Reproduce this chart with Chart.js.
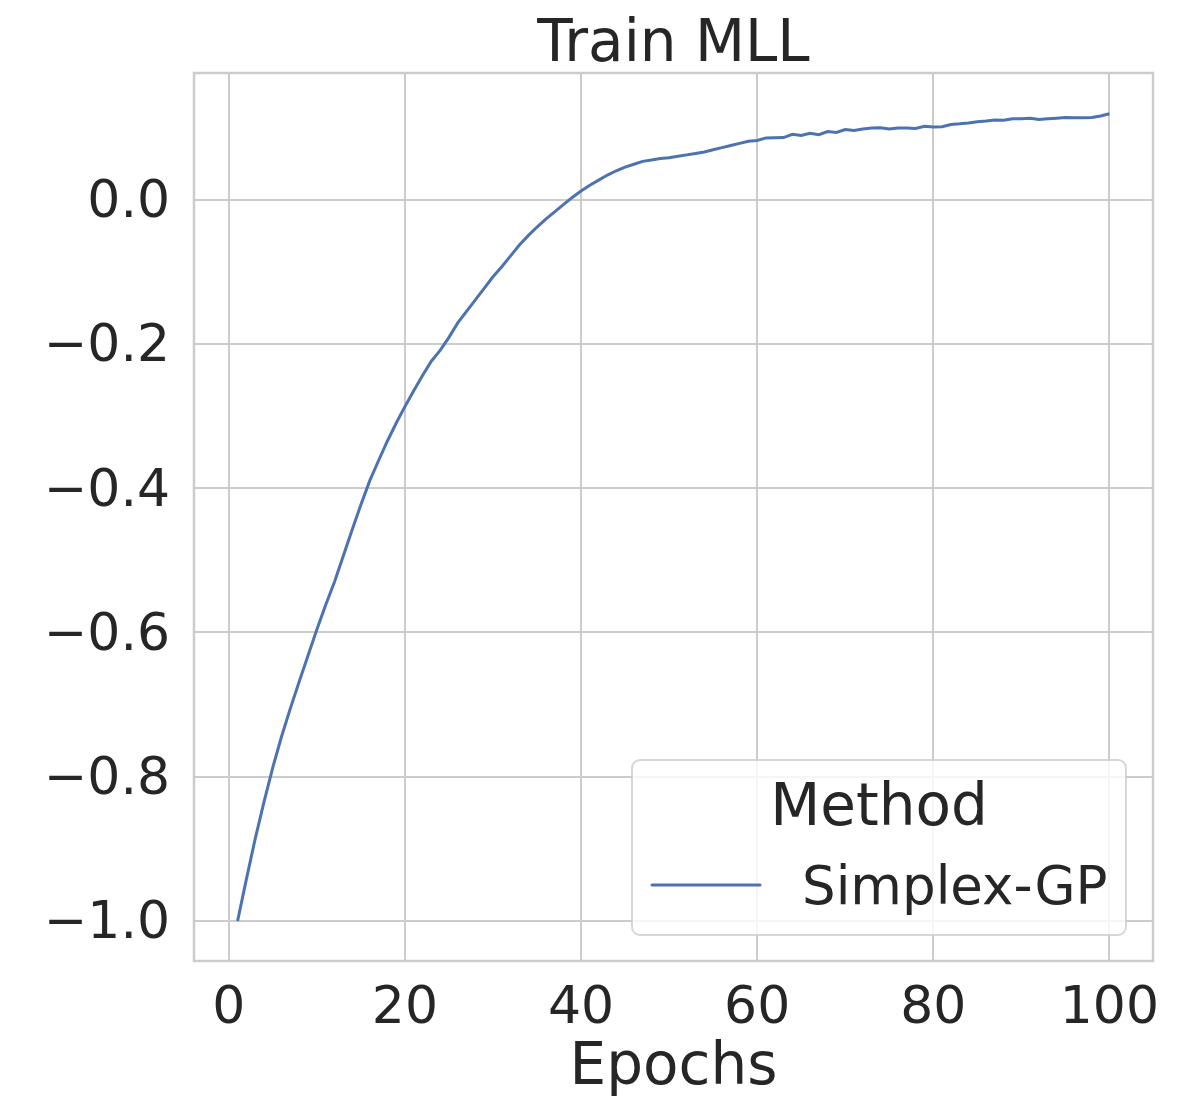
<!DOCTYPE html>
<html>
<head>
<meta charset="utf-8">
<script src="https://cdn.jsdelivr.net/npm/chart.js@4"></script>
<style>
  html, body { margin: 0; padding: 0; background: #fff; }
  #wrap { width: 1199px; height: 1100px; }
</style>
</head>
<body>
<div id="wrap"><canvas id="myChart" width="1199" height="1100"></canvas></div>
<script>
// epochs on the x axis
var epochs = [1,2,3,4,5,6,7,8,9,10,11,12,13,14,15,16,17,18,19,20,
  21,22,23,24,25,26,27,28,29,30,31,32,33,34,35,36,37,38,39,40,
  41,42,43,44,45,46,47,48,49,50,51,52,53,54,55,56,57,58,59,60,
  61,62,63,64,65,66,67,68,69,70,71,72,73,74,75,76,77,78,79,80,
  81,82,83,84,85,86,87,88,89,90,91,92,93,94,95,96,97,98,99,100];

// Simplex-GP train MLL
var simplexGP = [-1.000,-0.942,-0.886,-0.835,-0.787,-0.744,-0.705,-0.668,-0.632,-0.596,
  -0.562,-0.530,-0.494,-0.458,-0.423,-0.390,-0.362,-0.335,-0.310,-0.287,
  -0.265,-0.244,-0.224,-0.209,-0.191,-0.171,-0.155,-0.139,-0.123,-0.107,
  -0.093,-0.078,-0.063,-0.050,-0.038,-0.027,-0.017,-0.007,0.003,0.012,
  0.020,0.027,0.034,0.040,0.045,0.049,0.053,0.055,0.057,0.058,
  0.060,0.062,0.064,0.066,0.069,0.072,0.075,0.078,0.081,0.082,
  0.0855,0.0858,0.086,0.0906,0.0888,0.092,0.090,0.0943,0.093,0.097,
  0.0957,0.0978,0.0992,0.0997,0.098,0.0992,0.0992,0.0985,0.1017,0.1006,
  0.101,0.104,0.105,0.1063,0.108,0.109,0.1105,0.110,0.112,0.112,
  0.1128,0.111,0.112,0.1128,0.1137,0.1133,0.1133,0.1137,0.116,0.119];

var xTicks = [0, 20, 40, 60, 80, 100];
var yTicks = [-1.0, -0.8, -0.6, -0.4, -0.2, 0.0];

var chartTitle = 'Train MLL';
var legendTitle = 'Method';
var seriesName = 'Simplex-GP';

var FONT = "'DejaVu Sans', sans-serif";
var TEXT = '#262626';
var GRID = '#cccccc';
var BLUE = '#4c72b0';

var points = epochs.map(function(e, i) { return {x: e, y: simplexGP[i]}; });

// title, frame and legend box like the seaborn figure
const decor = {
  id: 'decor',
  afterDatasetsDraw: (chart) => {
    const {ctx, chartArea} = chart;
    ctx.save();
    // spines on all four sides
    ctx.strokeStyle = GRID;
    ctx.lineWidth = 2.5;
    ctx.strokeRect(chartArea.left, chartArea.top, chartArea.right - chartArea.left, chartArea.bottom - chartArea.top);

    // title
    ctx.fillStyle = TEXT;
    ctx.font = '58px ' + FONT;
    ctx.textAlign = 'center';
    ctx.textBaseline = 'alphabetic';
    ctx.fillText(chartTitle, (chartArea.left + chartArea.right) / 2, 61);

    // legend
    const lx = 632, ly = 760, lw = 494, lh = 175, r = 8;
    ctx.beginPath();
    ctx.roundRect(lx, ly, lw, lh, r);
    ctx.fillStyle = 'rgba(255,255,255,0.8)';
    ctx.fill();
    ctx.strokeStyle = 'rgba(204,204,204,0.8)';
    ctx.lineWidth = 2;
    ctx.stroke();

    ctx.fillStyle = TEXT;
    ctx.font = '58px ' + FONT;
    ctx.textAlign = 'center';
    ctx.fillText(legendTitle, lx + lw / 2, 825);

    ctx.strokeStyle = BLUE;
    ctx.lineWidth = 3;
    ctx.lineCap = 'round';
    ctx.beginPath();
    ctx.moveTo(652, 885);
    ctx.lineTo(760, 885);
    ctx.stroke();

    ctx.font = '53px ' + FONT;
    ctx.textAlign = 'left';
    ctx.fillText(seriesName, 802, 904);
    ctx.restore();
  }
};

new Chart(document.getElementById('myChart'), {
  type: 'line',
  data: {
    datasets: [{
      label: seriesName,
      data: points,
      borderColor: BLUE,
      backgroundColor: BLUE,
      borderWidth: 3,
      pointRadius: 0,
      tension: 0,
      fill: false,
    }]
  },
  options: {
    responsive: false,
    animation: false,
    layout: { padding: { top: 73, right: 46, left: 0, bottom: 0 } },
    plugins: {
      legend: { display: false },
      tooltip: { enabled: false },
      title: { display: false },
    },
    scales: {
      x: {
        type: 'linear',
        min: -3.95,
        max: 104.95,
        afterBuildTicks: (scale) => { scale.ticks = xTicks.map(v => ({value: v})); },
        afterFit: (scale) => { scale.height = 139; },
        grid: { color: GRID, lineWidth: 2, drawTicks: false },
        border: { display: false },
        ticks: {
          color: TEXT,
          font: { family: FONT, size: 52 },
          padding: 17,
          maxRotation: 0,
          callback: (v) => String(v),
        },
        title: {
          display: true,
          text: 'Epochs',
          color: TEXT,
          font: { family: FONT, size: 58 },
          padding: { top: 0, bottom: -4 },
        },
      },
      y: {
        min: -1.0555,
        max: 0.1755,
        afterBuildTicks: (scale) => { scale.ticks = yTicks.map(v => ({value: v})); },
        afterFit: (scale) => { scale.width = 194; },
        grid: { color: GRID, lineWidth: 2, drawTicks: false },
        border: { display: false },
        ticks: {
          color: TEXT,
          font: { family: FONT, size: 52 },
          padding: 24,
          labelOffset: 4,
          callback: (v) => (v < -1e-9 ? '\u2212' : '') + Math.abs(v).toFixed(1),
        },
      },
    },
  },
  plugins: [decor],
});
</script>
</body>
</html>
